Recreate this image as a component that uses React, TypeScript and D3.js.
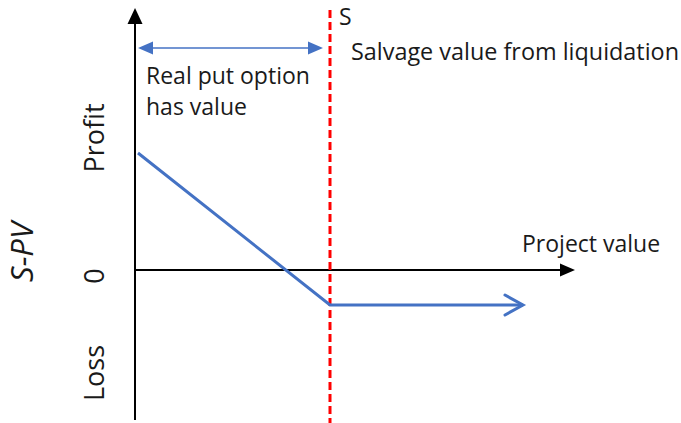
import React from "react";
import * as d3 from "d3";

const W = 681;
const H = 423;

// Payoff data (project value, S - PV)
const projectValues = [3, 195, 388];
const payoffValues = [117, -35, -35];
const salvageValue = 195; // S
const axisXMax = 440;
const axisYMin = -150;
const axisYMax = 262;

const yLabels = ["Profit", "0", "Loss"];
const yLabelValues = [132, -6, -103];

const BLUE = "#4472C4";
const FONT = "'Open Sans', sans-serif";
const TXT = "#1a1a1a";

export default function App() {
  const x = d3.scaleLinear().domain([0, axisXMax]).range([135, 575]);
  const y = d3.scaleLinear().domain([axisYMin, axisYMax]).range([420, 8]);

  const pts = projectValues.map((v, i) => [x(v), y(payoffValues[i])] as [number, number]);
  const line = d3.line()(pts) || "";

  const x0 = x(0);
  const y0 = y(0);
  const sx = x(salvageValue);
  const endX = pts[2][0];
  const endY = pts[2][1];
  const arrowY = 48;

  return (
    <svg width={W} height={H} style={{ position: "absolute", left: 0, top: 0, background: "#fff" }}>
      {/* Y axis */}
      <line x1={x0} y1={y(axisYMin)} x2={x0} y2={22} stroke="#000" strokeWidth={2} />
      <path d={`M${x0},${y(axisYMax)} L${x0 - 7.5},${y(axisYMax) + 16} L${x0 + 7.5},${y(axisYMax) + 16} Z`} fill="#000" />
      {/* X axis */}
      <line x1={x0} y1={y0} x2={x(axisXMax) - 12} y2={y0} stroke="#000" strokeWidth={2} />
      <path d={`M${x(axisXMax)},${y0} L${x(axisXMax) - 15},${y0 - 6.5} L${x(axisXMax) - 15},${y0 + 6.5} Z`} fill="#000" />

      {/* Red dashed S line */}
      <line x1={sx} y1={10} x2={sx} y2={423} stroke="#FF0000" strokeWidth={3} strokeDasharray="8,4" />

      {/* Payoff line */}
      <path d={line} fill="none" stroke={BLUE} strokeWidth={3} strokeLinejoin="miter" />
      <path d={`M${endX - 18},${endY - 10} L${endX},${endY} L${endX - 18},${endY + 10}`} fill="none" stroke={BLUE} strokeWidth={3} strokeLinecap="round" />

      {/* Double arrow */}
      <line x1={x0 + 14} y1={arrowY} x2={sx - 22} y2={arrowY} stroke={BLUE} strokeWidth={1.5} />
      <path d={`M${x0 + 3},${arrowY} L${x0 + 18},${arrowY - 6.5} L${x0 + 18},${arrowY + 6.5} Z`} fill={BLUE} />
      <path d={`M${sx - 7},${arrowY} L${sx - 22},${arrowY - 6.5} L${sx - 22},${arrowY + 6.5} Z`} fill={BLUE} />

      {/* Texts */}
      <g fontFamily={FONT} fill={TXT}>
        <text x={sx + 9} y={25} fontSize={23}>S</text>
        <text x={sx + 21} y={60} fontSize={23.4}>Salvage value from liquidation</text>
        <text x={146} y={84} fontSize={23}>Real put option</text>
        <text x={146} y={115} fontSize={23}>has value</text>
        <text x={522} y={252} fontSize={23}>Project value</text>
        {yLabels.map((l, i) => (
          <text
            key={l}
            transform={`translate(104,${y(yLabelValues[i])}) rotate(-90)`}
            textAnchor="middle"
            fontSize={27}
          >
            {l}
          </text>
        ))}
        <text transform={`translate(33,252) rotate(-90)`} textAnchor="middle" fontSize={31} fontStyle="italic">
          S-PV
        </text>
      </g>
    </svg>
  );
}
